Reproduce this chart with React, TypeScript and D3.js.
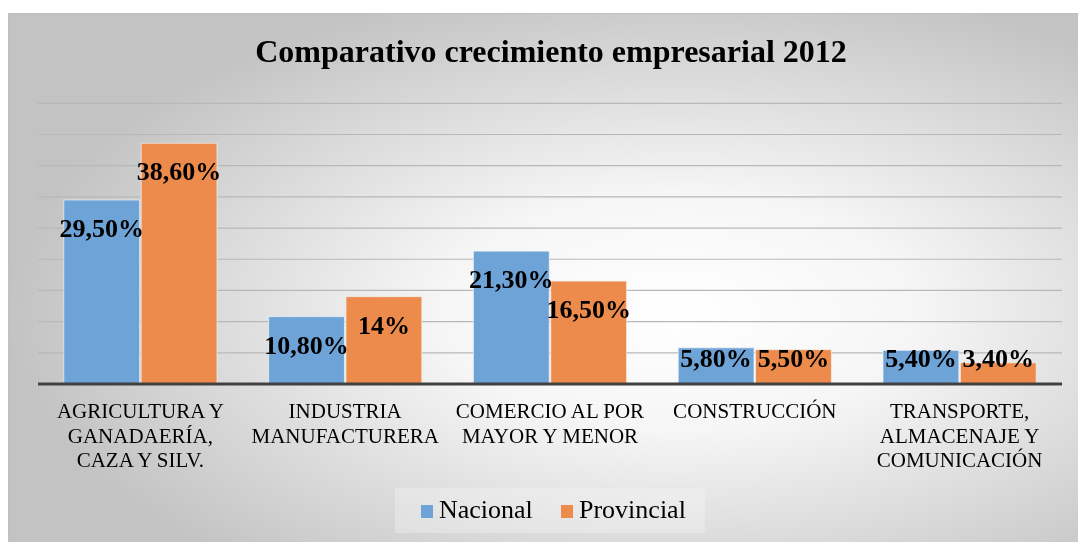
import React from "react";
import * as d3 from "d3";

const categories = [
  "AGRICULTURA Y GANADAERÍA, CAZA Y SILV.",
  "INDUSTRIA MANUFACTURERA",
  "COMERCIO AL POR MAYOR Y MENOR",
  "CONSTRUCCIÓN",
  "TRANSPORTE, ALMACENAJE Y COMUNICACIÓN",
];
// line breaks as they appear under the axis
const categoryLines = [
  ["AGRICULTURA Y", "GANADAERÍA,", "CAZA Y SILV."],
  ["INDUSTRIA", "MANUFACTURERA"],
  ["COMERCIO AL POR", "MAYOR Y MENOR"],
  ["CONSTRUCCIÓN"],
  ["TRANSPORTE,", "ALMACENAJE Y", "COMUNICACIÓN"],
];
const seriesNames = ["Nacional", "Provincial"];
const nacional = [29.5, 10.8, 21.3, 5.8, 5.4];
const provincial = [38.6, 14, 16.5, 5.5, 3.4];
const labelsNacional = ["29,50%", "10,80%", "21,30%", "5,80%", "5,40%"];
const labelsProvincial = ["38,60%", "14%", "16,50%", "5,50%", "3,40%"];
const yTicks = [0, 5, 10, 15, 20, 25, 30, 35, 40, 45];

const W = 1078;
const H = 542;
const FONT = "'Liberation Serif', 'Times New Roman', serif";
const colors = ["#6ea3d7", "#ec8b4c"];

export default function App() {
  const plot = { left: 38, right: 1062, top: 103.3, bottom: 384 };

  const x0 = d3.scaleBand<string>().domain(categories).range([plot.left, plot.right]);
  const off = x0.bandwidth() * 0.126;
  const x1 = d3
    .scaleBand<string>()
    .domain(seriesNames)
    .range([off, x0.bandwidth() - off])
    .paddingInner(0.02);
  const y = d3.scaleLinear().domain([0, 45]).range([plot.bottom, plot.top]);

  const series = [
    { name: seriesNames[0], values: nacional, labels: labelsNacional, color: colors[0] },
    { name: seriesNames[1], values: provincial, labels: labelsProvincial, color: colors[1] },
  ];

  return (
    <div style={{ position: "fixed", left: 0, top: 0 }}>
      <svg width={W} height={H} style={{ display: "block" }}>
        <defs>
          <radialGradient id="bg" cx="62%" cy="55%" r="62%" fx="62%" fy="55%">
            <stop offset="0%" stopColor="#ffffff" />
            <stop offset="35%" stopColor="#f6f6f6" />
            <stop offset="100%" stopColor="#c3c3c3" />
          </radialGradient>
        </defs>
        <rect x={8.5} y={13.5} width={W} height={H} fill="url(#bg)" stroke="#c0c0c0" />

        <text
          x={551}
          y={62}
          textAnchor="middle"
          fontFamily={FONT}
          fontWeight="bold"
          fontSize="32px"
          fill="#000"
        >
          Comparativo crecimiento empresarial 2012
        </text>

        {yTicks.slice(1).map((t) => (
          <line
            key={t}
            x1={plot.left}
            x2={plot.right}
            y1={y(t)}
            y2={y(t)}
            stroke="#b8b8b8"
            strokeWidth={1.2}
          />
        ))}

        {categories.map((c, i) => (
          <g key={c} transform={`translate(${x0(c)},0)`}>
            {series.map((s) => {
              const top = y(s.values[i]);
              return (
                <rect
                  key={s.name}
                  x={x1(s.name)}
                  y={top}
                  width={x1.bandwidth()}
                  height={plot.bottom - top}
                  fill={s.color}
                  stroke="#f4f4f4"
                  strokeOpacity={0.7}
                  strokeWidth={1}
                />
              );
            })}
          </g>
        ))}

        <line
          x1={plot.left}
          x2={plot.right}
          y1={plot.bottom}
          y2={plot.bottom}
          stroke="#404040"
          strokeWidth={3}
        />

        {categories.map((c, i) => (
          <g key={c + "-lbl"} transform={`translate(${x0(c)},0)`}>
            {series.map((s) => {
              const top = y(s.values[i]);
              const by = Math.min(top + 37, plot.bottom - 17);
              return (
                <text
                  key={s.name}
                  x={(x1(s.name) as number) + x1.bandwidth() / 2}
                  y={by}
                  textAnchor="middle"
                  fontFamily={FONT}
                  fontWeight="bold"
                  fontSize="26px"
                  fill="#000"
                >
                  {s.labels[i]}
                </text>
              );
            })}
            <text
              x={x0.bandwidth() / 2}
              y={418}
              textAnchor="middle"
              fontFamily={FONT}
              fontSize="21px"
              fill="#000"
            >
              {categoryLines[i].map((ln, k) => (
                <tspan key={k} x={x0.bandwidth() / 2} dy={k === 0 ? 0 : 24.5}>
                  {ln}
                </tspan>
              ))}
            </text>
          </g>
        ))}

        <g>
          <rect x={395} y={488} width={310} height={45} fill="#f7f7f7" fillOpacity={0.35} />
          {series.map((s, i) => {
            const lx = i === 0 ? 421 : 561;
            return (
              <g key={s.name}>
                <rect x={lx} y={505} width={12} height={13} fill={s.color} />
                <text x={lx + 18} y={518} fontFamily={FONT} fontSize="26px" fill="#000">
                  {s.name}
                </text>
              </g>
            );
          })}
        </g>
      </svg>
    </div>
  );
}
